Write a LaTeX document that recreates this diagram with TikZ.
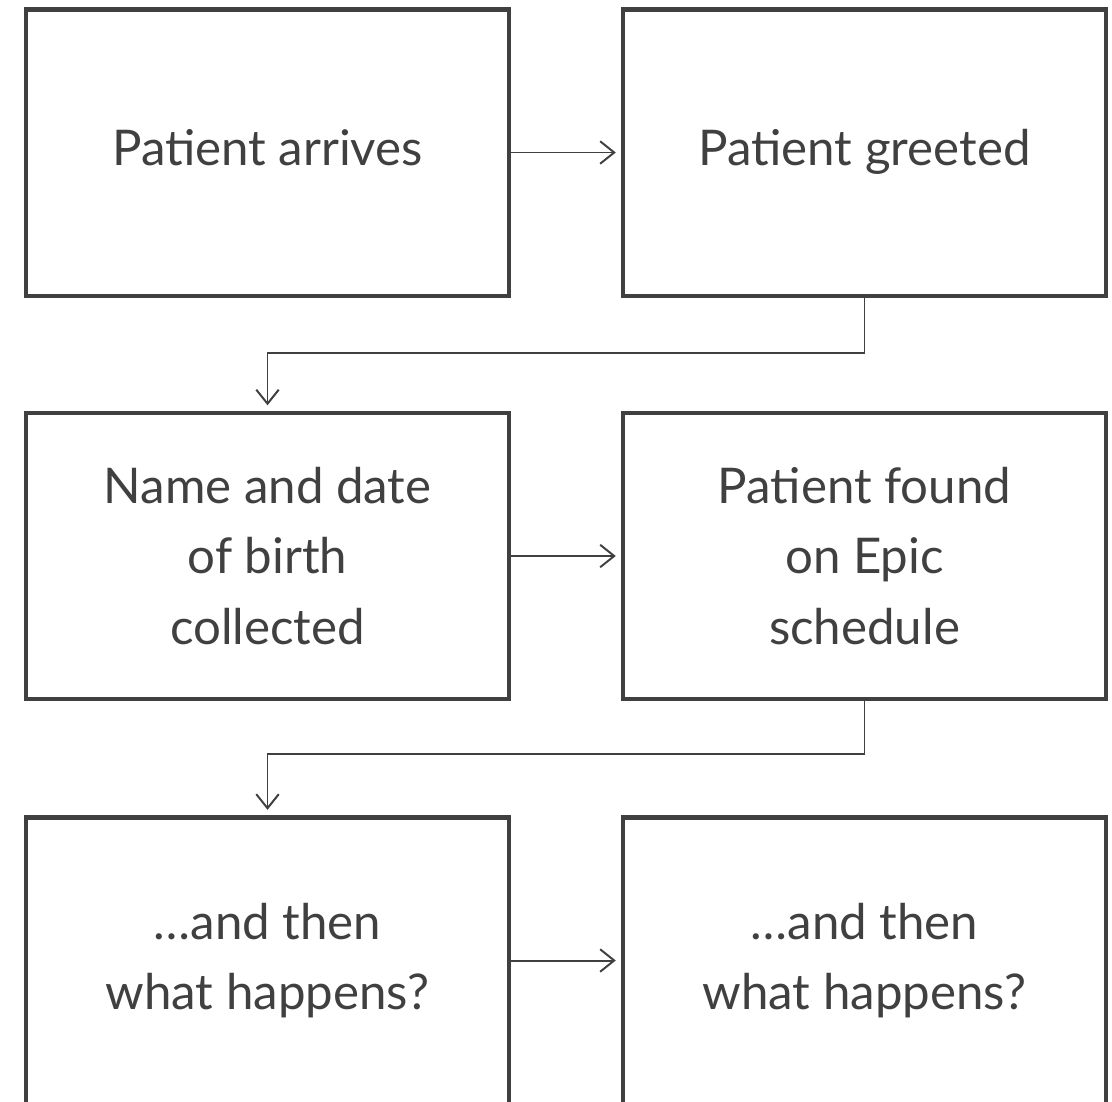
\documentclass[tikz,border=0pt]{standalone}
\usepackage{fontspec}
\setmainfont{Lato}
\usetikzlibrary{arrows.meta}
\definecolor{ink}{HTML}{404040}
\tikzset{
  stepbox/.style={draw=ink,line width=2.9pt,minimum width=12.05cm,minimum height=7.15cm,
    align=center,text=ink,font=\fontsize{35}{50}\selectfont},
  oneline/.style={text height=25pt,text depth=7pt},
  flow/.style={draw=ink,line width=1.4pt,-{Straight Barb[length=10pt,width=16pt,line width=1.4pt]},
    shorten >=4pt}
}
\begin{document}
\begin{tikzpicture}[x=0.025cm,y=-0.025cm]
  \useasboundingbox (0,0) rectangle (1112,1101);
  \clip (0,0) rectangle (1112,1101);

    \node[stepbox,oneline] (arrive) at (267.5,152.5) {Patient arrives};
    \node[stepbox,oneline] (greet) at (864.5,152.5) {Patient greeted};

    \node[stepbox] (collect) at (267.5,556) {Name and date\\of birth\\collected};
    \node[stepbox] (found) at (864.5,556) {Patient found\\on Epic\\schedule};

    \node[stepbox] (then1) at (267.5,960.5) {…and then\\what happens?};
    \node[stepbox] (then2) at (864.5,960.5) {…and then\\what happens?};

    \draw[flow] (arrive) -- (greet);
    \draw[flow] (greet.south) -- ++(0,55) -| (collect.north);

    \draw[flow] (collect) -- (found);
    \draw[flow] (found.south) -- ++(0,53) -| (then1.north);

    \draw[flow] (then1) -- (then2);

\end{tikzpicture}
\end{document}
